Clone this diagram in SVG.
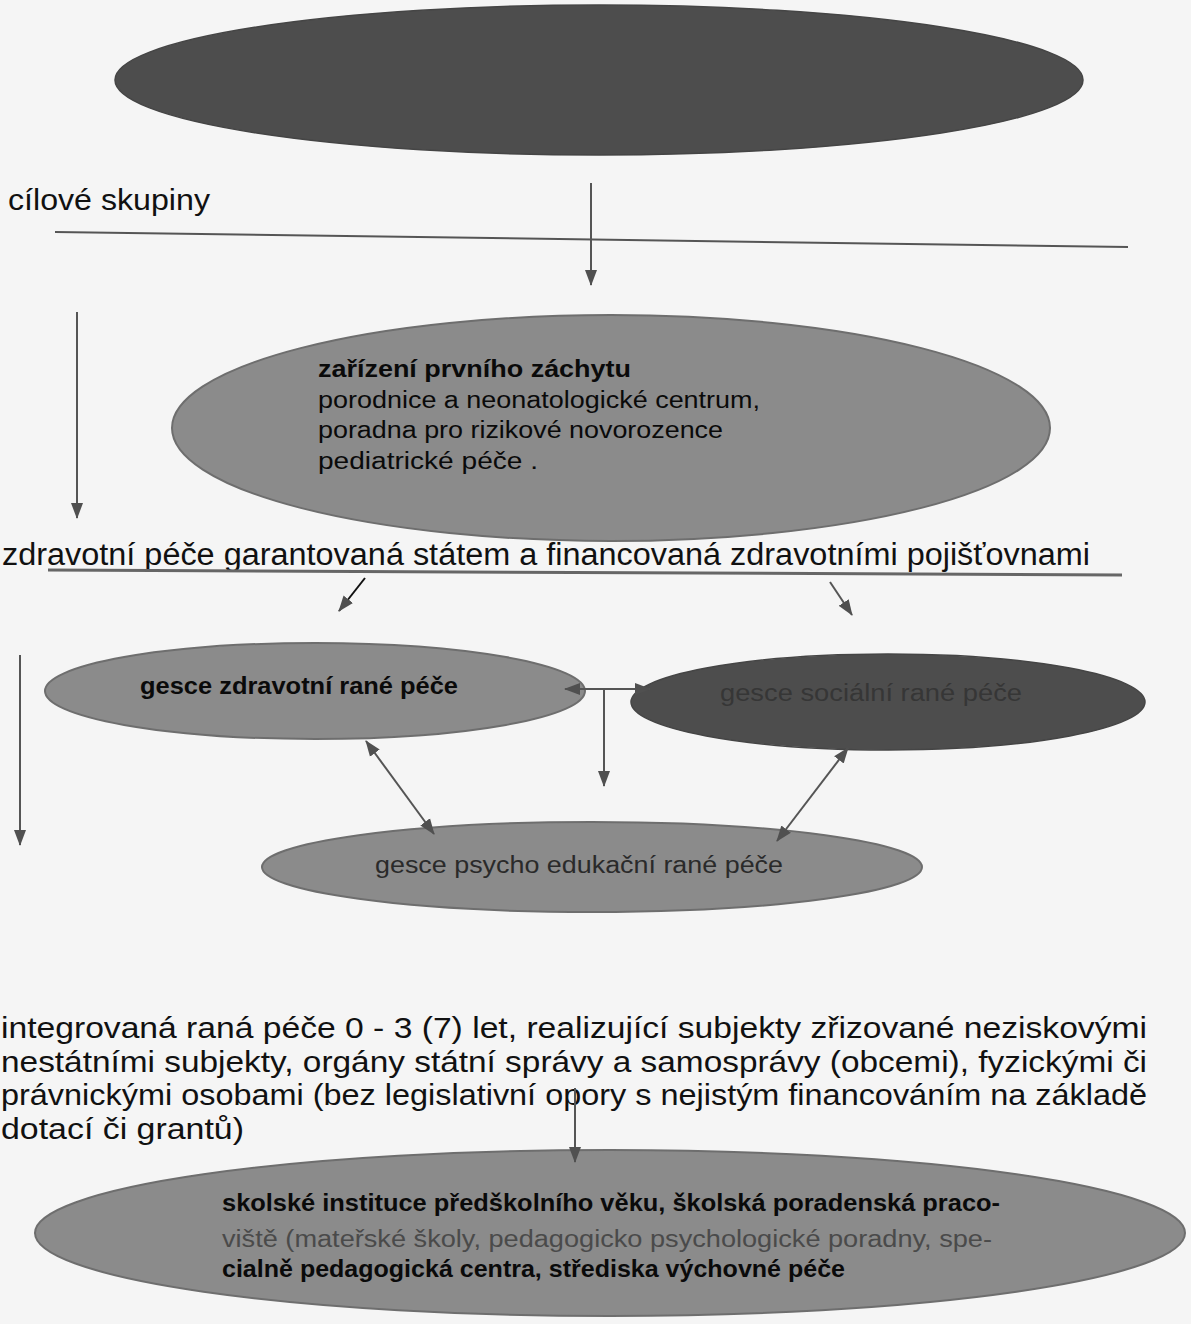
<svg xmlns="http://www.w3.org/2000/svg" width="1191" height="1324" viewBox="0 0 1191 1324">
<style>
.bg{fill:#f5f5f5}
.dark{fill:#4d4d4d;stroke:#454545;stroke-width:1.5}
.mid{fill:#8b8b8b;stroke:#6e6e6e;stroke-width:2}
.t{font-family:"Liberation Sans",Arial,sans-serif;fill:#111}
.lbl{font-family:"Liberation Sans",Arial,sans-serif;font-size:23px;fill:#0a0a0a}
.conn line{stroke:#555;stroke-width:2;fill:none}
.rule{stroke:#5a5a5a;stroke-width:2.5}
</style>
<defs>
<marker id="ah" markerUnits="userSpaceOnUse" markerWidth="16" markerHeight="14" refX="15" refY="7" orient="auto-start-reverse">
<path d="M0,1 L16,7 L0,13 Z" fill="#505050"/>
</marker>
</defs>
<rect class="bg" x="0" y="0" width="1191" height="1324"/>

<g id="top-node">
<ellipse class="dark" cx="599" cy="80" rx="484" ry="75"/>
</g>

<g id="label-cilove">
<text class="t" x="8" y="210" font-size="30" textLength="202" lengthAdjust="spacingAndGlyphs">cílové skupiny</text>
</g>

<g id="node-zachyt">
<ellipse class="mid" cx="611" cy="428" rx="439" ry="113"/>
<text class="lbl" x="318" y="377" font-weight="bold" textLength="313" lengthAdjust="spacingAndGlyphs">zařízení prvního záchytu</text>
<text class="lbl" x="318" y="408" textLength="442" lengthAdjust="spacingAndGlyphs">porodnice a neonatologické centrum,</text>
<text class="lbl" x="318" y="438" textLength="405" lengthAdjust="spacingAndGlyphs">poradna pro rizikové novorozence</text>
<text class="lbl" x="318" y="469" textLength="220" lengthAdjust="spacingAndGlyphs">pediatrické péče .</text>
</g>

<g id="label-zdravotni">
<text class="t" x="2" y="565" font-size="31" textLength="1088" lengthAdjust="spacingAndGlyphs">zdravotní péče garantovaná státem a financovaná zdravotními pojišťovnami</text>
</g>

<g id="node-zdravotni">
<ellipse class="mid" cx="315" cy="691" rx="270" ry="48"/>
<text class="lbl" x="140" y="694" font-weight="bold" textLength="318" lengthAdjust="spacingAndGlyphs">gesce zdravotní rané péče</text>
</g>

<g id="node-socialni">
<ellipse class="dark" cx="888" cy="702" rx="257" ry="48"/>
<text class="lbl" x="720" y="701" style="fill:#363636" textLength="302" lengthAdjust="spacingAndGlyphs">gesce sociální rané péče</text>
</g>

<g id="node-psycho">
<ellipse class="mid" cx="592" cy="867" rx="330" ry="45"/>
<text class="lbl" x="375" y="873" style="fill:#2a2a2a" textLength="408" lengthAdjust="spacingAndGlyphs">gesce psycho edukační rané péče</text>
</g>

<g id="label-integrovana">
<text class="t" x="1" y="1038" font-size="29" textLength="1146" lengthAdjust="spacingAndGlyphs">integrovaná raná péče  0 - 3 (7) let, realizující subjekty zřizované neziskovými</text>
<text class="t" x="1" y="1072" font-size="29" textLength="1146" lengthAdjust="spacingAndGlyphs">nestátními subjekty, orgány státní správy a samosprávy (obcemi), fyzickými či</text>
<text class="t" x="1" y="1105" font-size="29" textLength="1146" lengthAdjust="spacingAndGlyphs">právnickými osobami (bez legislativní opory s nejistým financováním na základě</text>
<text class="t" x="1" y="1139" font-size="29" textLength="243" lengthAdjust="spacingAndGlyphs">dotací či grantů)</text>
</g>

<g id="node-skolske">
<ellipse class="mid" cx="610" cy="1233" rx="575" ry="83"/>
<text class="lbl" x="222" y="1211" font-size="22" font-weight="bold" textLength="778" lengthAdjust="spacingAndGlyphs">skolské instituce předškolního věku, školská poradenská praco-</text>
<text class="lbl" x="222" y="1247" font-size="22" style="fill:#4a4a4a" textLength="770" lengthAdjust="spacingAndGlyphs">viště (mateřské školy, pedagogicko psychologické poradny, spe-</text>
<text class="lbl" x="222" y="1277" font-size="22" font-weight="bold" textLength="623" lengthAdjust="spacingAndGlyphs">cialně pedagogická centra, střediska výchovné péče</text>
</g>

<g id="connectors" class="conn">
<line x1="55" y1="232" x2="1128" y2="247" class="rule"/>
<line x1="48" y1="570" x2="1122" y2="575" class="rule" style="stroke-width:3;stroke:#666"/>
<line x1="591" y1="183" x2="591" y2="285" marker-end="url(#ah)"/>
<line x1="77" y1="312" x2="77" y2="518" marker-end="url(#ah)"/>
<line x1="365" y1="578" x2="339" y2="611" style="stroke:#111" marker-end="url(#ah)"/>
<line x1="830" y1="582" x2="852" y2="615" marker-end="url(#ah)"/>
<line x1="20" y1="655" x2="20" y2="845" marker-end="url(#ah)"/>
<line x1="565" y1="689" x2="650" y2="689" marker-start="url(#ah)" marker-end="url(#ah)"/>
<line x1="604" y1="689" x2="604" y2="786" marker-end="url(#ah)"/>
<line x1="366" y1="741" x2="434" y2="834" marker-start="url(#ah)" marker-end="url(#ah)"/>
<line x1="848" y1="748" x2="777" y2="841" marker-start="url(#ah)" marker-end="url(#ah)"/>
<line x1="575" y1="1088" x2="575" y2="1162" marker-end="url(#ah)"/>
</g>
</svg>
